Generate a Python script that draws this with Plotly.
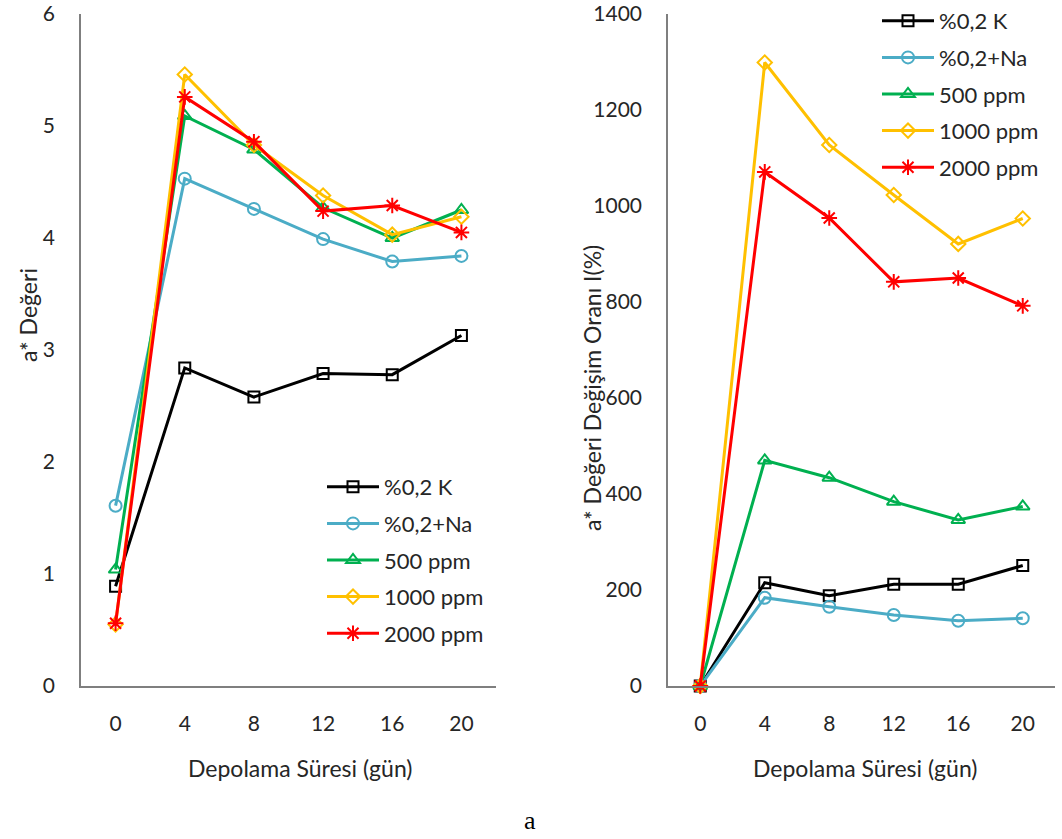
import plotly.graph_objects as go

days = ["0", "4", "8", "12", "16", "20"]
series_names = ["%0,2 K", "%0,2+Na", "500 ppm", "1000 ppm", "2000 ppm"]

# Left chart: a* Değeri
left_k = [0.89, 2.84, 2.58, 2.79, 2.78, 3.13]
left_na = [1.61, 4.53, 4.26, 3.99, 3.79, 3.84]
left_500 = [1.04, 5.09, 4.79, 4.27, 4.00, 4.25]
left_1000 = [0.55, 5.46, 4.83, 4.38, 4.03, 4.19]
left_2000 = [0.56, 5.26, 4.86, 4.24, 4.29, 4.05]

# Right chart: a* Değeri Değişim Oranı (%)
right_k = [0, 215, 188, 212, 212, 251]
right_na = [0, 184, 165, 148, 136, 141]
right_500 = [0, 470, 434, 384, 346, 374]
right_1000 = [0, 1299, 1127, 1023, 921, 974]
right_2000 = [0, 1071, 975, 842, 850, 792]

y_left_ticks = [0, 1, 2, 3, 4, 5, 6]
y_right_ticks = [0, 200, 400, 600, 800, 1000, 1200, 1400]

colors = ["#000000", "#4BACC6", "#00B050", "#FFC000", "#FF0000"]
symbols = ["square-open", "circle-open", "triangle-up-open", "diamond-open", "asterisk-open"]
sizes = [11, 12, 12, 11, 13]

FONT = "Lato, 'Open Sans', sans-serif"
TXT = "#262626"

fig = go.Figure()
left_data = [left_k, left_na, left_500, left_1000, left_2000]
right_data = [right_k, right_na, right_500, right_1000, right_2000]

for i, name in enumerate(series_names):
    fig.add_trace(go.Scatter(
        x=days, y=left_data[i], name=name, mode="lines+markers",
        line=dict(color=colors[i], width=3),
        marker=dict(symbol=symbols[i], size=sizes[i], color=colors[i],
                    line=dict(width=2, color=colors[i])),
        xaxis="x", yaxis="y", legend="legend", legendgroup="L" + str(i),
        cliponaxis=False,
    ))
for i, name in enumerate(series_names):
    fig.add_trace(go.Scatter(
        x=days, y=right_data[i], name=name, mode="lines+markers",
        line=dict(color=colors[i], width=3),
        marker=dict(symbol=symbols[i], size=sizes[i], color=colors[i],
                    line=dict(width=2, color=colors[i])),
        xaxis="x2", yaxis="y2", legend="legend2", legendgroup="R" + str(i),
        cliponaxis=False,
    ))

W, H = 1062, 839
def px(x):
    return x / W
def py(y):
    return (H - y) / H

axis_common = dict(showgrid=False, zeroline=False, showline=True,
                   linecolor="#7F7F7F", linewidth=1.5, ticks="", automargin=False,
                   tickfont=dict(family=FONT, size=21, color=TXT))

fig.update_layout(
    width=W, height=H,
    margin=dict(l=0, r=0, t=0, b=0),
    paper_bgcolor="white", plot_bgcolor="white",
    font=dict(family=FONT, color=TXT),
    xaxis=dict(domain=[px(81), px(496)], type="category", range=[-0.5, 5.5],
               anchor="y", ticklabelstandoff=18, **axis_common),
    yaxis=dict(domain=[py(686), py(14)], range=[0, 6], tickvals=y_left_ticks,
               anchor="x", ticklabelstandoff=20, **axis_common),
    xaxis2=dict(domain=[px(668), px(1055)], type="category", range=[-0.5, 5.5],
                anchor="y2", ticklabelstandoff=18, **axis_common),
    yaxis2=dict(domain=[py(686), py(14)], range=[0, 1400], tickvals=y_right_ticks,
                anchor="x2", ticklabelstandoff=20, **axis_common),
    legend=dict(x=px(322), y=py(466), xanchor="left", yanchor="top",
                bgcolor="rgba(0,0,0,0)", font=dict(family=FONT, size=22, color=TXT),
                traceorder="grouped", tracegroupgap=5, itemwidth=52),
    legend2=dict(x=px(877), y=1.0, xanchor="left", yanchor="top",
                 bgcolor="rgba(0,0,0,0)", font=dict(family=FONT, size=22, color=TXT),
                 traceorder="grouped", tracegroupgap=5, itemwidth=52),
    showlegend=True,
)

annots = [
    dict(text="a* Değeri", x=px(28), y=py(315), textangle=-90, font_size=23),
    dict(text="Depolama Süresi (gün)", x=px(300), y=py(768), font_size=23),
    dict(text="a* Değeri Değişim Oranı I(%)", x=px(592), y=py(388), textangle=-90, font_size=23),
    dict(text="Depolama Süresi (gün)", x=px(865), y=py(768), font_size=23),
]
for a in annots:
    fig.add_annotation(xref="paper", yref="paper", showarrow=False,
                       xanchor="center", yanchor="middle",
                       font=dict(family=FONT, size=a.pop("font_size"), color=TXT), **a)
fig.add_annotation(xref="paper", yref="paper", showarrow=False, text="a",
                   x=px(530), y=py(820), xanchor="center", yanchor="middle",
                   font=dict(family="Liberation Serif, Times New Roman, serif", size=26, color="#000000"))

fig.write_html("out.html")
